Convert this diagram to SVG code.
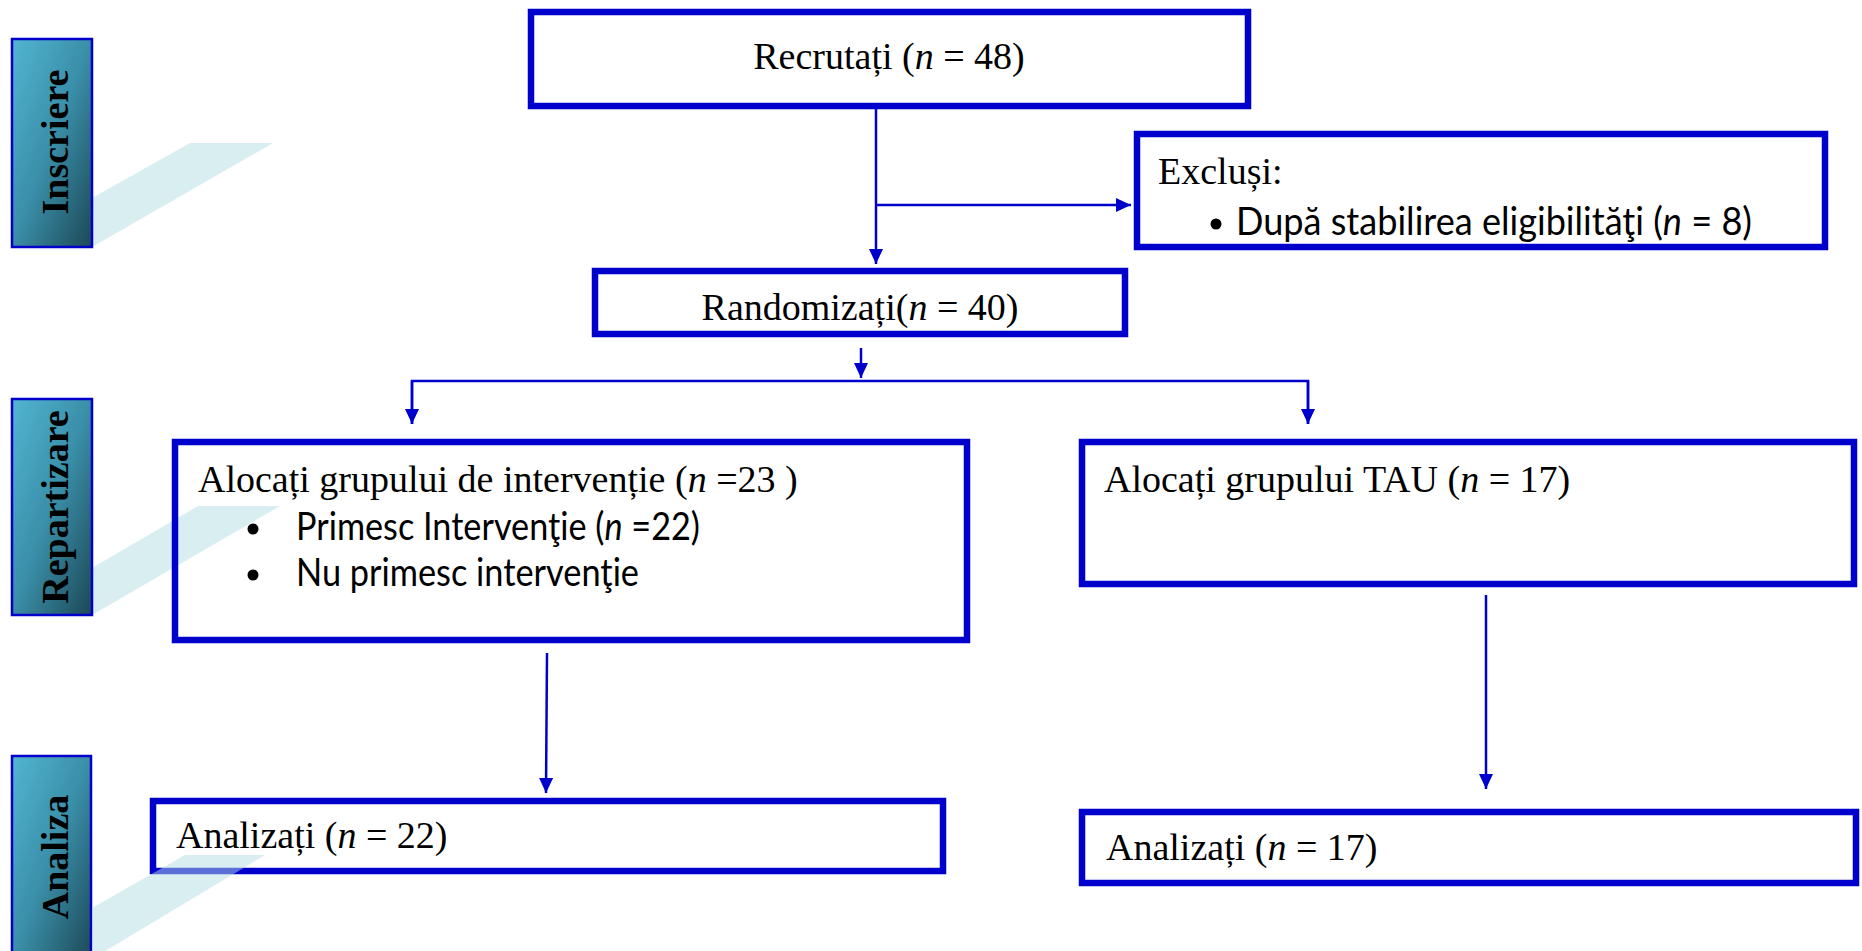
<svg xmlns="http://www.w3.org/2000/svg" width="1862" height="951" viewBox="0 0 1862 951">
<style>
.box{fill:none;stroke:#0000cc;stroke-width:6.5}
.lab{stroke:#0000cc;stroke-width:2.5}
.shadow{fill:#b4dee4;opacity:0.5}
.ser{font-family:"Liberation Serif","Times New Roman",serif;font-size:38px;fill:#000}
.sans{font-family:Lato,"Noto Sans","Liberation Sans",sans-serif;font-size:39px;fill:#000}
.side{font-family:"Liberation Serif","Times New Roman",serif;font-size:38px;font-weight:bold;fill:#000}
.it{font-style:italic}
.con{fill:none;stroke:#0000cc;stroke-width:2.5}
.dot{fill:#000}
</style>
<defs>
<linearGradient id="lg" x1="0" y1="0" x2="1" y2="1">
<stop offset="0" stop-color="#52b6d2"/>
<stop offset="0.5" stop-color="#3a8ea8"/>
<stop offset="1" stop-color="#1c4856"/>
</linearGradient>
<marker id="ah" markerUnits="userSpaceOnUse" markerWidth="15" markerHeight="14" refX="15" refY="7" orient="auto">
<path d="M0,0 L15,7 L0,14 z" fill="#0000cc"/>
</marker>
</defs>
<rect width="1862" height="951" fill="#fff"/>

<polygon class="shadow" points="92,198 190,143 273,143 92,247"/>
<polygon class="shadow" points="92,568 198,506 280,506 92,615"/>

<g id="label-inscriere">
<rect class="lab" x="12" y="39" width="80" height="208" fill="url(#lg)"/>
<text class="side" transform="translate(68,142) rotate(-90)" text-anchor="middle">Inscriere</text>
</g>
<g id="label-repartizare">
<rect class="lab" x="12" y="399" width="80" height="216" fill="url(#lg)"/>
<text class="side" transform="translate(68,507) rotate(-90)" text-anchor="middle">Repartizare</text>
</g>
<g id="label-analiza">
<rect class="lab" x="12" y="756" width="79" height="205" fill="url(#lg)"/>
<text class="side" transform="translate(68,857) rotate(-90)" text-anchor="middle">Analiza</text>
</g>

<g id="connectors">
<line class="con" x1="876" y1="109" x2="876" y2="264" marker-end="url(#ah)"/>
<line class="con" x1="876" y1="205" x2="1131" y2="205" marker-end="url(#ah)"/>
<line class="con" x1="861" y1="348" x2="861" y2="378" marker-end="url(#ah)"/>
<polyline class="con" points="412,424 412,381 1308,381 1308,424"/>
<line class="con" x1="412" y1="381" x2="412" y2="424" marker-end="url(#ah)"/>
<line class="con" x1="1308" y1="381" x2="1308" y2="424" marker-end="url(#ah)"/>
<line class="con" x1="547" y1="653" x2="546" y2="793" marker-end="url(#ah)"/>
<line class="con" x1="1486" y1="595" x2="1486" y2="789" marker-end="url(#ah)"/>
</g>

<g id="recrutati">
<rect class="box" x="531" y="12" width="717" height="94"/>
<text class="ser" x="889" y="69" text-anchor="middle">Recrutați (<tspan class="it">n</tspan> = 48)</text>
</g>

<g id="exclusi">
<rect class="box" x="1137" y="134" width="688" height="113"/>
<text class="ser" x="1158" y="184">Excluși:</text>
<circle class="dot" cx="1216" cy="224" r="5.5"/>
<text class="sans" x="1236" y="235" textLength="516" lengthAdjust="spacingAndGlyphs">După stabilirea eligibilităţi (<tspan class="it">n</tspan> = 8)</text>
</g>

<g id="randomizati">
<rect class="box" x="595" y="271" width="530" height="63"/>
<text class="ser" x="860" y="320" text-anchor="middle">Randomizați(<tspan class="it">n</tspan> = 40)</text>
</g>

<g id="interventie">
<rect class="box" x="175" y="442" width="792" height="198"/>
<text class="ser" x="198" y="492">Alocați grupului de intervenție (<tspan class="it">n</tspan> =23 )</text>
<circle class="dot" cx="253" cy="529" r="5.5"/>
<text class="sans" x="296" y="540" textLength="404" lengthAdjust="spacingAndGlyphs">Primesc Intervenţie (<tspan class="it">n</tspan> =22)</text>
<circle class="dot" cx="253" cy="575" r="5.5"/>
<text class="sans" x="296" y="586" textLength="343" lengthAdjust="spacingAndGlyphs">Nu primesc intervenţie</text>
</g>

<g id="tau">
<rect class="box" x="1082" y="442" width="772" height="142"/>
<text class="ser" x="1104" y="492">Alocați grupului TAU (<tspan class="it">n</tspan> = 17)</text>
</g>

<g id="analizati-1">
<rect class="box" x="153" y="801" width="790" height="70"/>
<text class="ser" x="176" y="848">Analizați (<tspan class="it">n</tspan> = 22)</text>
</g>

<g id="analizati-2">
<rect class="box" x="1082" y="812" width="774" height="71"/>
<text class="ser" x="1106" y="860">Analizați (<tspan class="it">n</tspan> = 17)</text>
</g>

<polygon class="shadow" points="92,908 185,855 265,855 92,959"/>
</svg>
